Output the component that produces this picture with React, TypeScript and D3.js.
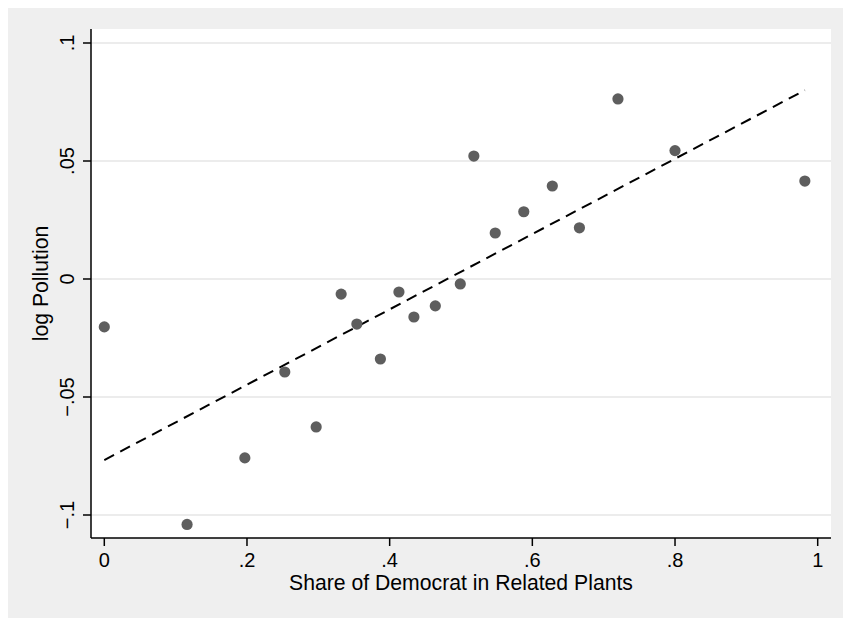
import React from "react";
import * as d3 from "d3";

const shareDem = [0, 0.116, 0.197, 0.253, 0.297, 0.332, 0.354, 0.387, 0.413, 0.434, 0.464, 0.499, 0.518, 0.548, 0.588, 0.628, 0.666, 0.72, 0.8, 0.982];
const logPollution = [-0.0203, -0.104, -0.0758, -0.0394, -0.0627, -0.0064, -0.0191, -0.0339, -0.0055, -0.0161, -0.0114, -0.0021, 0.0521, 0.0195, 0.0285, 0.0394, 0.0217, 0.0763, 0.0544, 0.0415];
const fitX = [0, 0.982];
const fitY = [-0.0767, 0.0800];
const xTicks = [0, 0.2, 0.4, 0.6, 0.8, 1];
const xTickLabels = ["0", ".2", ".4", ".6", ".8", "1"];
const yTicks = [-0.1, -0.05, 0, 0.05, 0.1];
const yTickLabels = ["\u2212.1", "\u2212.05", "0", ".05", ".1"];

const W = 843;
const H = 618;
const plotL = 91;
const plotR = 831;
const plotT = 29;
const plotB = 538;
const FONT = "'Liberation Sans', Arial, Helvetica, sans-serif";

export default function App() {
  const x = d3.scaleLinear().domain([0, 1]).range([104.3, 817.7]);
  const y = d3.scaleLinear().domain([-0.1, 0.1]).range([515, 43]);
  const pts = shareDem.map((v, i) => [v, logPollution[i]] as [number, number]);
  const line = d3
    .line<[number, number]>()
    .x((d) => x(d[0]))
    .y((d) => y(d[1]));
  const fit = fitX.map((v, i) => [v, fitY[i]] as [number, number]);

  return (
    <svg
      width={W - 8}
      height={H - 8}
      style={{ display: "block", position: "fixed", left: 8, top: 8 }}
    >
      <g transform="translate(-8,-8)">
        <rect x={8} y={8} width={W} height={H} fill="#efefef" />
        <rect x={plotL} y={plotT} width={plotR - plotL} height={plotB - plotT} fill="#ffffff" />
        {yTicks.map((t) => (
          <line key={"g" + t} x1={plotL} x2={plotR} y1={y(t)} y2={y(t)} stroke="#e6e6e6" strokeWidth={1.5} />
        ))}
        <path d={line(fit) || ""} fill="none" stroke="#000" strokeWidth={2} strokeDasharray="11,7" />
        {pts.map((p, i) => (
          <circle key={i} cx={x(p[0])} cy={y(p[1])} r={5.6} fill="#5e5e5e" />
        ))}
        <line x1={plotL} x2={plotL} y1={plotT} y2={plotB} stroke="#000" strokeWidth={1.5} />
        <line x1={plotL} x2={plotR} y1={plotB} y2={plotB} stroke="#000" strokeWidth={1.5} />
        {yTicks.map((t, i) => (
          <g key={"y" + t}>
            <line x1={plotL - 8} x2={plotL} y1={y(t)} y2={y(t)} stroke="#000" strokeWidth={1.5} />
            <text
              transform={`translate(73.5,${y(t)}) rotate(-90)`}
              textAnchor="middle"
              fontFamily={FONT}
              fontSize={20}
              fill="#000"
            >
              {yTickLabels[i]}
            </text>
          </g>
        ))}
        {xTicks.map((t, i) => (
          <g key={"x" + t}>
            <line x1={x(t)} x2={x(t)} y1={plotB} y2={plotB + 8} stroke="#000" strokeWidth={1.5} />
            <text x={x(t)} y={567} textAnchor="middle" fontFamily={FONT} fontSize={20} fill="#000">
              {xTickLabels[i]}
            </text>
          </g>
        ))}
        <text x={461} y={590} textAnchor="middle" fontFamily={FONT} fontSize={21.2} fill="#000">
          Share of Democrat in Related Plants
        </text>
        <text
          transform={`translate(48,283.5) rotate(-90)`}
          textAnchor="middle"
          fontFamily={FONT}
          fontSize={21.2}
          fill="#000"
        >
          log Pollution
        </text>
      </g>
    </svg>
  );
}
